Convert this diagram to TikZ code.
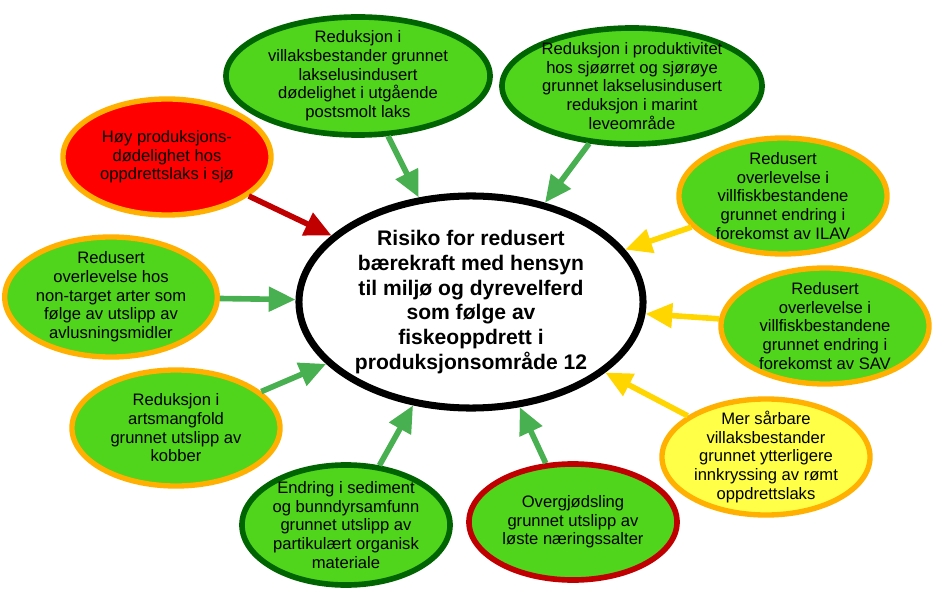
\documentclass[tikz,border=0pt]{standalone}
\usepackage{fontspec}
\setmainfont{Liberation Sans}
\usetikzlibrary{shapes.geometric, arrows.meta}

\definecolor{leafgreen}{RGB}{80,212,28}
\definecolor{darkleaf}{RGB}{0,100,0}
\definecolor{amber}{RGB}{255,176,0}
\definecolor{alarmred}{RGB}{255,0,0}
\definecolor{darkred}{RGB}{192,0,0}
\definecolor{paleyellow}{RGB}{255,255,72}
\definecolor{arrowgreen}{RGB}{72,176,80}
\definecolor{arrowyellow}{RGB}{255,214,0}

\begin{document}
\begin{tikzpicture}[x=0.025cm, y=-0.025cm,
    % Define styles - one ellipse per effect, coloured by status
    effect/.style={ellipse, fill=leafgreen, line width=4pt, minimum width=5.2cm, minimum height=2.9cm, inner xsep=0pt, inner ysep=-4pt, align=center, font=\fontsize{11.8}{13.3}\selectfont},
    good/.style={effect, draw=darkleaf},
    fair/.style={effect, draw=amber, line width=3.8pt},
    poor/.style={effect, draw=darkred},
    risk/.style={ellipse, draw=black, fill=white, line width=5pt, minimum width=8.6cm, minimum height=5.3cm, inner sep=0pt, align=center, font=\fontsize{15}{17.6}\selectfont\bfseries},
    flow/.style={-{Triangle[length=19pt, width=17pt]}, line width=4pt}
]
\useasboundingbox (0, 0) rectangle (940, 603);

% Central risk
\node[risk] (risk) at (471, 302) {Risiko for redusert\\bærekraft med hensyn\\til miljø og dyrevelferd\\som følge av\\fiskeoppdrett i\\produksjonsområde 12};

% Effects, clockwise from top left
\node[fair, fill=alarmred] (mortality) at (167, 157) {Høy produksjons-\\dødelighet hos\\oppdrettslaks i sjø};
\node[good, minimum width=6.6cm, minimum height=2.95cm] (lice_salmon) at (358, 76) {Reduksjon i\\villaksbestander grunnet\\lakselusindusert\\dødelighet i utgående\\postsmolt laks};
\node[good, minimum width=6.5cm, minimum height=2.9cm] (lice_trout) at (632, 86) {Reduksjon i produktivitet\\hos sjøørret og sjørøye\\grunnet lakselusindusert\\reduksjon i marint\\leveområde};
\node[fair] (ilav) at (783, 196) {Redusert\\overlevelse i\\villfiskbestandene\\grunnet endring i\\forekomst av ILAV};
\node[fair] (sav) at (825, 326) {Redusert\\overlevelse i\\villfiskbestandene\\grunnet endring i\\forekomst av SAV};
\node[fair, fill=paleyellow] (escapees) at (766, 457) {Mer sårbare\\villaksbestander\\grunnet ytterligere\\innkryssing av rømt\\oppdrettslaks};
\node[poor] (nutrients) at (573, 522) {Overgjødsling\\grunnet utslipp av\\løste næringssalter};
\node[good, minimum height=3.0cm] (organic) at (346, 525) {Endring i sediment\\og bunndyrsamfunn\\grunnet utslipp av\\partikulært organisk\\materiale};
\node[fair] (copper) at (176, 428) {Reduksjon i\\artsmangfold\\grunnet utslipp av\\kobber};
\node[fair, minimum height=3.0cm] (delousing) at (111, 297) {Redusert\\overlevelse hos\\non-target arter som\\følge av utslipp av\\avlusningsmidler};

% Flow connections into the central risk
\draw[flow, darkred] (mortality) -- (risk);
\draw[flow, arrowgreen] (lice_salmon) -- (risk);
\draw[flow, arrowgreen] (lice_trout) -- (risk);
\draw[flow, arrowyellow] (ilav) -- (risk);
\draw[flow, arrowyellow] (sav) -- (risk);
\draw[flow, arrowyellow] (escapees) -- (risk);
\draw[flow, arrowgreen] (nutrients) -- (risk);
\draw[flow, arrowgreen] (organic) -- (risk);
\draw[flow, arrowgreen] (copper) -- (risk);
\draw[flow, arrowgreen] (delousing) -- (risk);

\end{tikzpicture}
\end{document}
